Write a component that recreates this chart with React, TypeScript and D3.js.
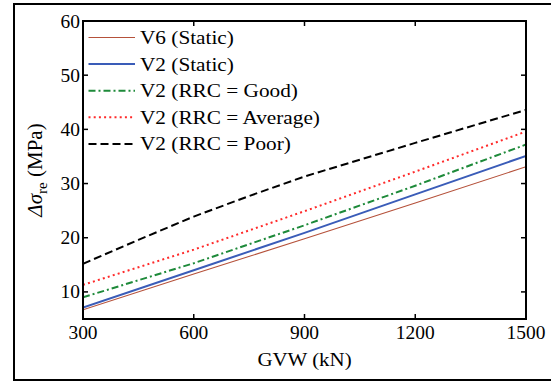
import React from "react";
import * as d3 from "d3";

const gvw = [300, 600, 900, 1200, 1500];
const v6Static = [6.7, 13.3, 19.8, 26.4, 33.1];
const v2Static = [7.1, 14.0, 20.9, 28.0, 35.1];
const v2Good = [9.0, 15.3, 22.3, 29.6, 37.2];
const v2Average = [11.3, 17.8, 24.9, 32.2, 39.6];
const gvwPoor = [300, 450, 600, 750, 900, 1200, 1500];
const v2Poor = [15.2, 19.6, 23.9, 27.7, 31.3, 37.5, 43.6];

const xTicks = [300, 600, 900, 1200, 1500];
const yTicks = [10, 20, 30, 40, 50, 60];

const seriesNames = [
  "V6 (Static)",
  "V2 (Static)",
  "V2 (RRC = Good)",
  "V2 (RRC = Average)",
  "V2 (RRC = Poor)",
];

const series = [
  { name: seriesNames[0], xs: gvw, values: v6Static, color: "#b5513a", width: 1.1, dash: "" },
  { name: seriesNames[1], xs: gvw, values: v2Static, color: "#3a5cb8", width: 2, dash: "" },
  { name: seriesNames[2], xs: gvw, values: v2Good, color: "#1e8a3a", width: 2, dash: "7,3,2,3" },
  { name: seriesNames[3], xs: gvw, values: v2Average, color: "#ff2a2a", width: 2, dash: "2,3.2" },
  { name: seriesNames[4], xs: gvwPoor, values: v2Poor, color: "#000000", width: 2, dash: "8,4" },
];

const W = 551;
const H = 382;
const L = 83, R = 526, T = 21, B = 319;
const FONT = "Liberation Serif";

export default function App() {
  const x = d3.scaleLinear().domain([300, 1500]).range([L, R]);
  const y = d3.scaleLinear().domain([5, 60]).range([B, T]);

  const tickLen = 5;
  const sx = 1.08;
  const txt = { fontFamily: FONT } as React.CSSProperties;

  return (
    <svg
      width={W}
      height={H}
      style={{ position: "absolute", left: 0, top: 0, background: "#fff", fontFamily: FONT }}
    >
      <rect x={0} y={0} width={W} height={H} fill="#fff" />
      <rect x={14} y={4} width={W} height={376} fill="none" stroke="#000" strokeWidth={2} />

      <defs>
        <clipPath id="plotclip">
          <rect x={L} y={T} width={R - L} height={B - T} />
        </clipPath>
      </defs>

      <g clipPath="url(#plotclip)">
        {series.map((s) => {
          const line = d3
            .line<number>()
            .x((_, i) => x(s.xs[i]))
            .y((d) => y(d));
          return (
            <path
              key={s.name}
              d={line(s.values) || ""}
              fill="none"
              stroke={s.color}
              strokeWidth={s.width}
              strokeDasharray={s.dash}
            />
          );
        })}
      </g>

      <rect x={L} y={T} width={R - L} height={B - T} fill="none" stroke="#000" strokeWidth={2} />

      {xTicks.map((t) => (
        <g key={"x" + t}>
          <line x1={x(t)} x2={x(t)} y1={B} y2={B - tickLen} stroke="#000" strokeWidth={1.5} />
          <line x1={x(t)} x2={x(t)} y1={T} y2={T + tickLen} stroke="#000" strokeWidth={1.5} />
          <text
            transform={`translate(${x(t)},${339}) scale(${sx},1)`}
            textAnchor="middle"
            fontSize={18}
            fill="#000"
            style={txt}
          >
            {t}
          </text>
        </g>
      ))}

      {yTicks.map((t) => (
        <g key={"y" + t}>
          <line x1={L} x2={L + tickLen} y1={y(t)} y2={y(t)} stroke="#000" strokeWidth={1.5} />
          <line x1={R} x2={R - tickLen} y1={y(t)} y2={y(t)} stroke="#000" strokeWidth={1.5} />
          <text
            transform={`translate(${L - 3},${y(t) + 6.5}) scale(${sx},1)`}
            textAnchor="end"
            fontSize={18}
            fill="#000"
            style={txt}
          >
            {t}
          </text>
        </g>
      ))}

      <text
        transform={`translate(${(L + R) / 2},${366}) scale(1.1,1)`}
        textAnchor="middle"
        fontSize={19}
        fill="#000"
        style={txt}
      >
        GVW (kN)
      </text>

      <text
        transform={`translate(42,${(T + B) / 2}) rotate(-90)`}
        textAnchor="middle"
        fontSize={21}
        fill="#000"
        style={txt}
      >
        <tspan fontStyle="italic">Δσ</tspan>
        <tspan fontSize={15} dy={5}>re</tspan>
        <tspan dy={-5}> (MPa)</tspan>
      </text>

      {series.map((s, i) => {
        const cy = 37.5 + i * 26.6;
        return (
          <g key={"lg" + i}>
            <line
              x1={88.5}
              x2={135}
              y1={cy}
              y2={cy}
              stroke={s.color}
              strokeWidth={s.width}
              strokeDasharray={s.dash}
            />
            <text
              transform={`translate(140,${cy + 6.5}) scale(1.12,1)`}
              fontSize={19}
              fill="#000"
              style={txt}
            >
              {s.name}
            </text>
          </g>
        );
      })}
    </svg>
  );
}
